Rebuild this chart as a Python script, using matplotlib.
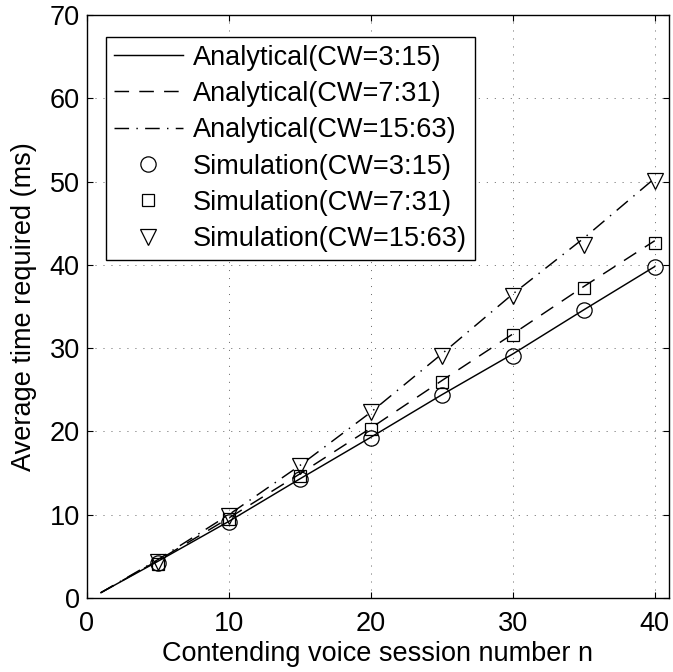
"""
Average time required vs. contending voice sessions
Analytical curves + simulation points for three CW settings
"""

import matplotlib
matplotlib.use('Agg')
import matplotlib.pyplot as plt

plt.rcParams['font.family'] = ['Liberation Sans', 'DejaVu Sans']

# Analytical curves
n_analytical = [1, 5, 10, 15, 20, 25, 30, 35, 40]
ana_cw_3_15 = [0.65, 4.4, 9.2, 14.3, 19.3, 24.4, 29.3, 34.6, 39.8]
ana_cw_7_31 = [0.65, 4.5, 9.6, 14.9, 20.4, 26.1, 31.7, 37.4, 42.9]
ana_cw_15_63 = [0.65, 4.6, 10.0, 15.9, 22.3, 29.3, 36.5, 43.2, 50.4]

# Simulation points
n_sim = [5, 10, 15, 20, 25, 30, 35, 40]
sim_cw_3_15 = [4.2, 9.1, 14.3, 19.2, 24.4, 29.1, 34.6, 39.8]
sim_cw_7_31 = [4.1, 9.5, 14.6, 20.3, 26.0, 31.6, 37.2, 42.6]
sim_cw_15_63 = [4.3, 9.8, 15.9, 22.3, 29.1, 36.3, 42.4, 50.1]

labels_ana = ['Analytical(CW=3:15)', 'Analytical(CW=7:31)', 'Analytical(CW=15:63)']
labels_sim = ['Simulation(CW=3:15)', 'Simulation(CW=7:31)', 'Simulation(CW=15:63)']

x_ticks = [0, 10, 20, 30, 40]
y_ticks = [0, 10, 20, 30, 40, 50, 60, 70]

FS = 19.5


def plot_chart():
    fig = plt.figure(figsize=(6.73, 6.72), dpi=100)
    ax = fig.add_axes([0.1288, 0.110, 0.994 - 0.1288, 0.9777 - 0.110])

    lw = 1.05
    ax.plot(n_analytical, ana_cw_3_15, color='k', linewidth=lw, linestyle='-',
            label=labels_ana[0])
    ax.plot(n_analytical, ana_cw_7_31, color='k', linewidth=lw, linestyle=(0, (10, 7)),
            label=labels_ana[1])
    ax.plot(n_analytical, ana_cw_15_63, color='k', linewidth=lw,
            linestyle=(0, (10, 5, 1, 5)), label=labels_ana[2])

    mk = dict(color='k', linestyle='none', markerfacecolor='none',
              markeredgecolor='k', markeredgewidth=0.9)
    ax.plot(n_sim, sim_cw_3_15, marker='o', markersize=11, label=labels_sim[0], **mk)
    ax.plot(n_sim, sim_cw_7_31, marker='s', markersize=8.5, label=labels_sim[1], **mk)
    ax.plot(n_sim, sim_cw_15_63, marker='v', markersize=11, label=labels_sim[2], **mk)

    ax.set_xlim(0, 41)
    ax.set_ylim(0, 70)
    ax.set_xticks(x_ticks)
    ax.set_yticks(y_ticks)

    # dotted matlab-like grid
    ax.grid(True, color='k', linewidth=0.5, linestyle=(0, (1.5, 10)), alpha=0.8)

    for spine in ax.spines.values():
        spine.set_linewidth(1.0)

    ax.tick_params(axis='both', which='both', direction='in', length=4, width=0.8,
                   top=True, right=True, labelsize=FS)
    ax.tick_params(axis='x', pad=9)
    ax.tick_params(axis='y', pad=5)

    ax.set_xlabel('Contending voice session number n', fontsize=FS, labelpad=3)
    ax.set_ylabel('Average time required (ms)', fontsize=FS, labelpad=9)

    leg = ax.legend(loc='upper left', bbox_to_anchor=(0.0326, 0.963), borderaxespad=0,
                    fontsize=FS, handlelength=2.55, handletextpad=0.38, borderpad=0.3,
                    labelspacing=0.38, numpoints=1, fancybox=False, framealpha=1,
                    edgecolor='k')
    leg.get_frame().set_linewidth(1.0)

    fig.savefig('out.png', dpi=100)


if __name__ == "__main__":
    plot_chart()
